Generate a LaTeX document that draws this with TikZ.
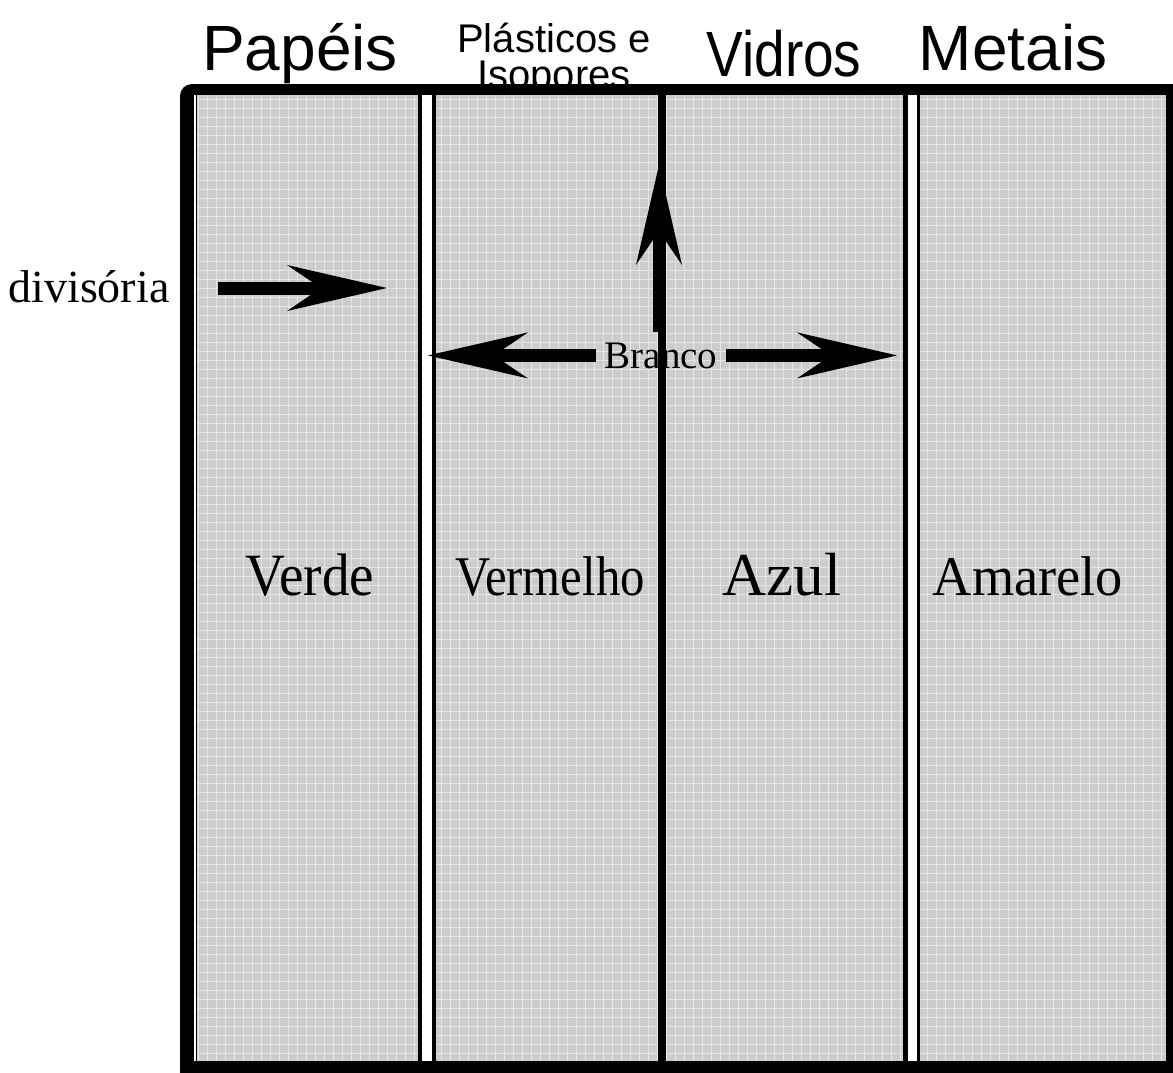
\documentclass[tikz,border=0pt]{standalone}
\usepackage{fontspec}
\setmainfont{Liberation Serif}
\setsansfont{Liberation Sans}
\usetikzlibrary{arrows.meta}

\begin{document}
\begin{tikzpicture}[x=0.5pt,y=-0.5pt,
  bigarrow/.style={line width=6.5pt,-{Stealth[length=50pt,width=23pt,inset=17pt,line width=0pt]}},
  header/.style={font=\sffamily\fontsize{#1}{#1}\selectfont,anchor=base,inner sep=0pt},
  cor/.style={font=\fontsize{#1}{#1}\selectfont,anchor=base,inner sep=0pt},
  panel/.style={fill=black!20},
  texture/.style={black!10,line width=0.4pt,step=4.5pt}]
\useasboundingbox (0,0) rectangle (1173,1072);

% titulos
\node (papeis) [header=32pt] at (300,70) {Papéis};
\node (plasticos) [font=\sffamily\fontsize{20pt}{18pt}\selectfont,anchor=base,inner sep=0pt,align=center] at (554,88) {Plásticos e\\Isopores};
\node (vidros) [header=32pt] at (784,76) {\scalebox{0.86}[1]{Vidros}};
\node (metais) [header=32pt] at (1013,70) {Metais};

% caixa
\fill[rounded corners=6pt] (180,84) rectangle (1185,1085);
\fill[white] (194,95) rectangle (196,1061);
\fill[panel] (197,95) rectangle (418,1061);
\draw[texture] (197,95) grid (418,1061);
\fill[white] (422,95) rectangle (432,1061);
\fill[panel] (436,95) rectangle (658,1061);
\draw[texture] (436,95) grid (658,1061);
\fill[panel] (666,95) rectangle (903,1061);
\draw[texture] (666,95) grid (903,1061);
\fill[white] (908,95) rectangle (917,1061);
\fill[panel] (920,95) rectangle (1166,1061);
\draw[texture] (920,95) grid (1166,1061);

% cores
\node (verde) [cor=30pt] at (310,595) {\scalebox{0.92}[1]{Verde}};
\node (vermelho) [cor=28pt] at (550,595) {\scalebox{0.87}[1]{Vermelho}};
\node (azul) [cor=30.5pt] at (782,595) {Azul};
\node (amarelo) [cor=28pt] at (1028,595) {\scalebox{0.97}[1]{Amarelo}};

% setas
\node (divisoria) [cor=23pt] at (89,302) {divisória};
\coordinate (divtail) at (218,288);
\coordinate (divtip) at (387,288);
\draw[bigarrow] (divtail) -- (divtip);

\node (branco) [cor=19.5pt] at (661,368) {Branco};
\coordinate (esq) at (428,0);
\coordinate (dir) at (897,0);
\coordinate (cima) at (659,165);
\draw[bigarrow] ([xshift=-4pt]branco.west) -- (esq |- branco.west);
\draw[bigarrow] ([xshift=4pt]branco.east) -- (dir |- branco.east);
\draw[bigarrow] ([yshift=5pt]branco.north -| cima) -- (cima);
\end{tikzpicture}
\end{document}
